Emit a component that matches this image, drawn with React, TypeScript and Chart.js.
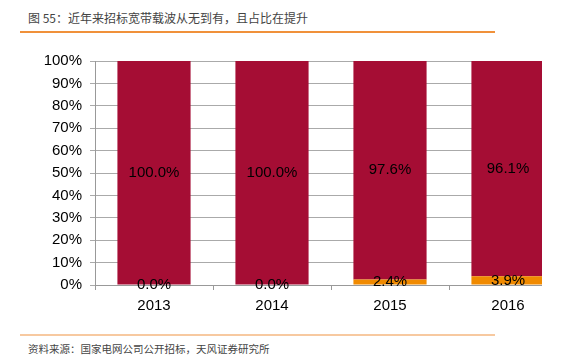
import React, { useEffect, useRef } from "react";
import { Chart, registerables } from "chart.js";

Chart.register(...registerables);

const categories = ["2013", "2014", "2015", "2016"];
const broadbandShare = [0.0, 0.0, 2.4, 3.9];
const otherShare = [100.0, 100.0, 97.6, 96.1];
const yTicks = [0, 10, 20, 30, 40, 50, 60, 70, 80, 90, 100];

const RED = "#A50D34";
const ORANGE = "#F08A00";
const FONT = "'Liberation Sans', Arial, Helvetica, sans-serif";

const labelPlugin = {
  id: "barLabels",
  afterDatasetsDraw(chart: any) {
    const ctx = chart.ctx;
    ctx.save();
    ctx.font = `15px ${FONT}`;
    ctx.fillStyle = "#000";
    ctx.textAlign = "center";
    ctx.textBaseline = "middle";
    chart.data.datasets.forEach((ds: any, di: number) => {
      const meta = chart.getDatasetMeta(di);
      meta.data.forEach((bar: any, i: number) => {
        const v = ds.data[i];
        const y = (bar.y + bar.base) / 2;
        ctx.fillText(v.toFixed(1) + "%", bar.x, y);
      });
    });
    ctx.restore();
  },
};

function ChartBox() {
  const ref = useRef<HTMLCanvasElement>(null);
  useEffect(() => {
    const chart = new Chart(ref.current!, {
      type: "bar",
      data: {
        labels: categories,
        datasets: [
          { label: "宽带载波", data: broadbandShare, backgroundColor: ORANGE, barPercentage: 0.62, categoryPercentage: 1 },
          { label: "其他", data: otherShare, backgroundColor: RED, barPercentage: 0.62, categoryPercentage: 1 },
        ],
      },
      options: {
        responsive: false,
        animation: false,
        layout: { padding: { top: 61, left: 0, right: 0, bottom: 0 } },
        plugins: { legend: { display: false }, tooltip: { enabled: false } },
        scales: {
          x: {
            stacked: true,
            offset: true,
            grid: { offset: true, drawOnChartArea: false, tickLength: 5, color: "#999" },
            border: { color: "#999" },
            ticks: { color: "#000", font: { size: 15, family: FONT }, padding: 7 },
            afterFit: (s: any) => { s.height = 35; },
          },
          y: {
            stacked: true,
            min: 0,
            max: 100,
            afterBuildTicks: (s: any) => { s.ticks = yTicks.map((v) => ({ value: v })); },
            grid: { color: "#aaa", tickLength: 5 },
            border: { color: "#999" },
            ticks: { color: "#000", font: { size: 15, family: FONT }, padding: 8, callback: (v: any) => v + "%" },
            afterFit: (s: any) => { s.width = 95; },
          },
        },
      },
      plugins: [labelPlugin],
    });
    return () => chart.destroy();
  }, []);
  return <canvas ref={ref} width={567} height={320} style={{ display: "block" }} />;
}

export default function App() {
  return (
    <div style={{ position: "absolute", left: 0, top: 0, width: 562, height: 364, background: "#fff", overflow: "hidden", fontFamily: FONT }}>
      <div style={{ position: "absolute", left: 28, top: 9, fontSize: 12, color: "#444", fontFamily: "'Noto Sans CJK SC', sans-serif", lineHeight: "17px" }}>
        图 55：近年来招标宽带载波从无到有，且占比在提升
      </div>
      <div style={{ position: "absolute", left: 20, top: 31, width: 475, height: 2, background: "#F0913A" }} />
      <div style={{ position: "absolute", left: 0, top: 0, width: 542, height: 320, overflow: "hidden" }}>
        <ChartBox />
      </div>
      <div style={{ position: "absolute", left: 20, top: 334, width: 475, height: 2, background: "#F7C9A0" }} />
      <div style={{ position: "absolute", left: 28, top: 341, fontSize: 10.5, color: "#444", fontFamily: "'Noto Sans CJK SC', sans-serif", lineHeight: "15px" }}>
        资料来源：国家电网公司公开招标，天风证券研究所
      </div>
    </div>
  );
}
